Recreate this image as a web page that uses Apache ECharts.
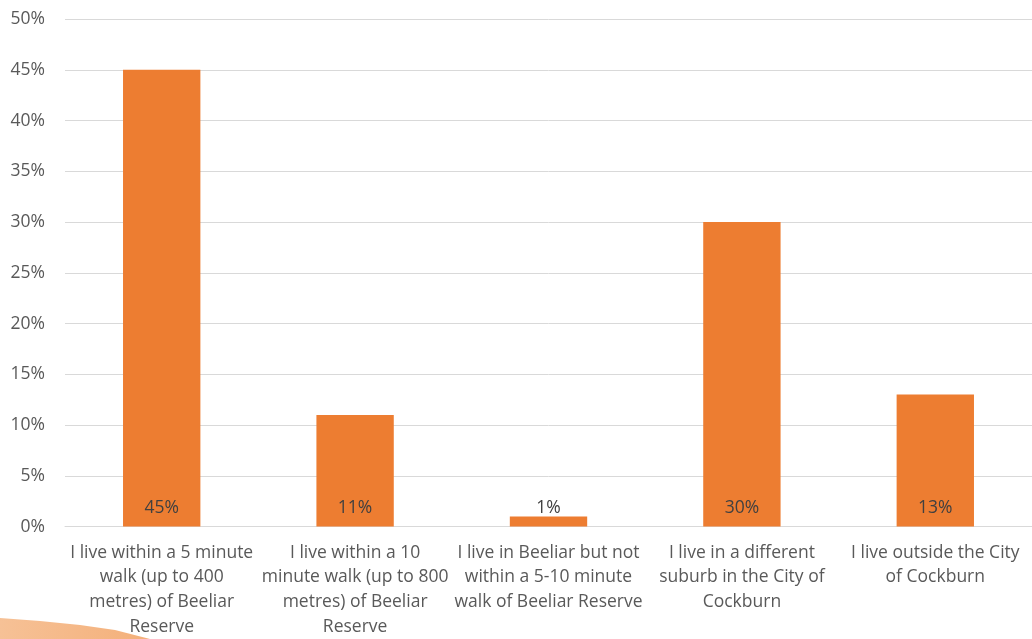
<!DOCTYPE html>
<html>
<head>
<meta charset="utf-8">
<script src="https://cdn.jsdelivr.net/npm/echarts@6/dist/echarts.min.js"></script>
<style>
  html, body { margin: 0; padding: 0; background: #ffffff; }
  #chart { width: 1032px; height: 639px; }
</style>
</head>
<body>
<div id="chart"></div>
<script>
// Where respondents live relative to Beeliar Reserve
const categories = [
  'I live within a 5 minute\nwalk (up to 400\nmetres) of Beeliar\nReserve',
  'I live within a 10\nminute walk (up to 800\nmetres) of Beeliar\nReserve',
  'I live in Beeliar but not\nwithin a 5-10 minute\nwalk of Beeliar Reserve',
  'I live in a different\nsuburb in the City of\nCockburn',
  'I live outside the City\nof Cockburn'
];
const shares = [45, 11, 1, 30, 13];
const yTicks = { min: 0, max: 50, interval: 5 };

const FONT = '"Open Sans", "Noto Sans", sans-serif';

const chart = echarts.init(document.getElementById('chart'), null, { renderer: 'canvas' });
chart.setOption({
  animation: false,
  backgroundColor: '#ffffff',
  grid: { left: 65, right: 0, top: 19, bottom: 112, containLabel: false },
  xAxis: {
    type: 'category',
    data: categories,
    axisLine: { show: true, lineStyle: { color: '#d9d9d9', width: 1 } },
    axisTick: { show: false },
    axisLabel: {
      interval: 0,
      color: '#595959',
      fontFamily: FONT,
      fontSize: 17.5,
      lineHeight: 24.6,
      margin: 14,
      align: 'center'
    }
  },
  yAxis: {
    type: 'value',
    min: yTicks.min,
    max: yTicks.max,
    interval: yTicks.interval,
    axisLine: { show: false },
    axisTick: { show: false },
    splitLine: { lineStyle: { color: '#d9d9d9', width: 1 } },
    axisLabel: {
      color: '#595959',
      fontFamily: FONT,
      fontSize: 17.5,
      margin: 20,
      formatter: v => v + '%'
    }
  },
  series: [{
    type: 'bar',
    data: shares,
    barWidth: '40%',
    itemStyle: { color: '#ED7D31' },
    label: {
      show: true,
      position: 'insideBottom',
      distance: 10,
      color: '#404040',
      fontFamily: FONT,
      fontSize: 17.5,
      formatter: p => p.value + '%'
    }
  }],
  graphic: [{
    type: 'polygon',
    silent: true,
    z: -1,
    shape: {
      points: [[0, 618], [40, 621], [80, 625], [115, 630], [150, 639], [0, 639]]
    },
    style: {
      fill: new echarts.graphic.LinearGradient(0, 0, 1, 0, [
        { offset: 0, color: '#F6C196' },
        { offset: 1, color: '#F4B07A' }
      ])
    }
  }]
});
</script>
</body>
</html>
